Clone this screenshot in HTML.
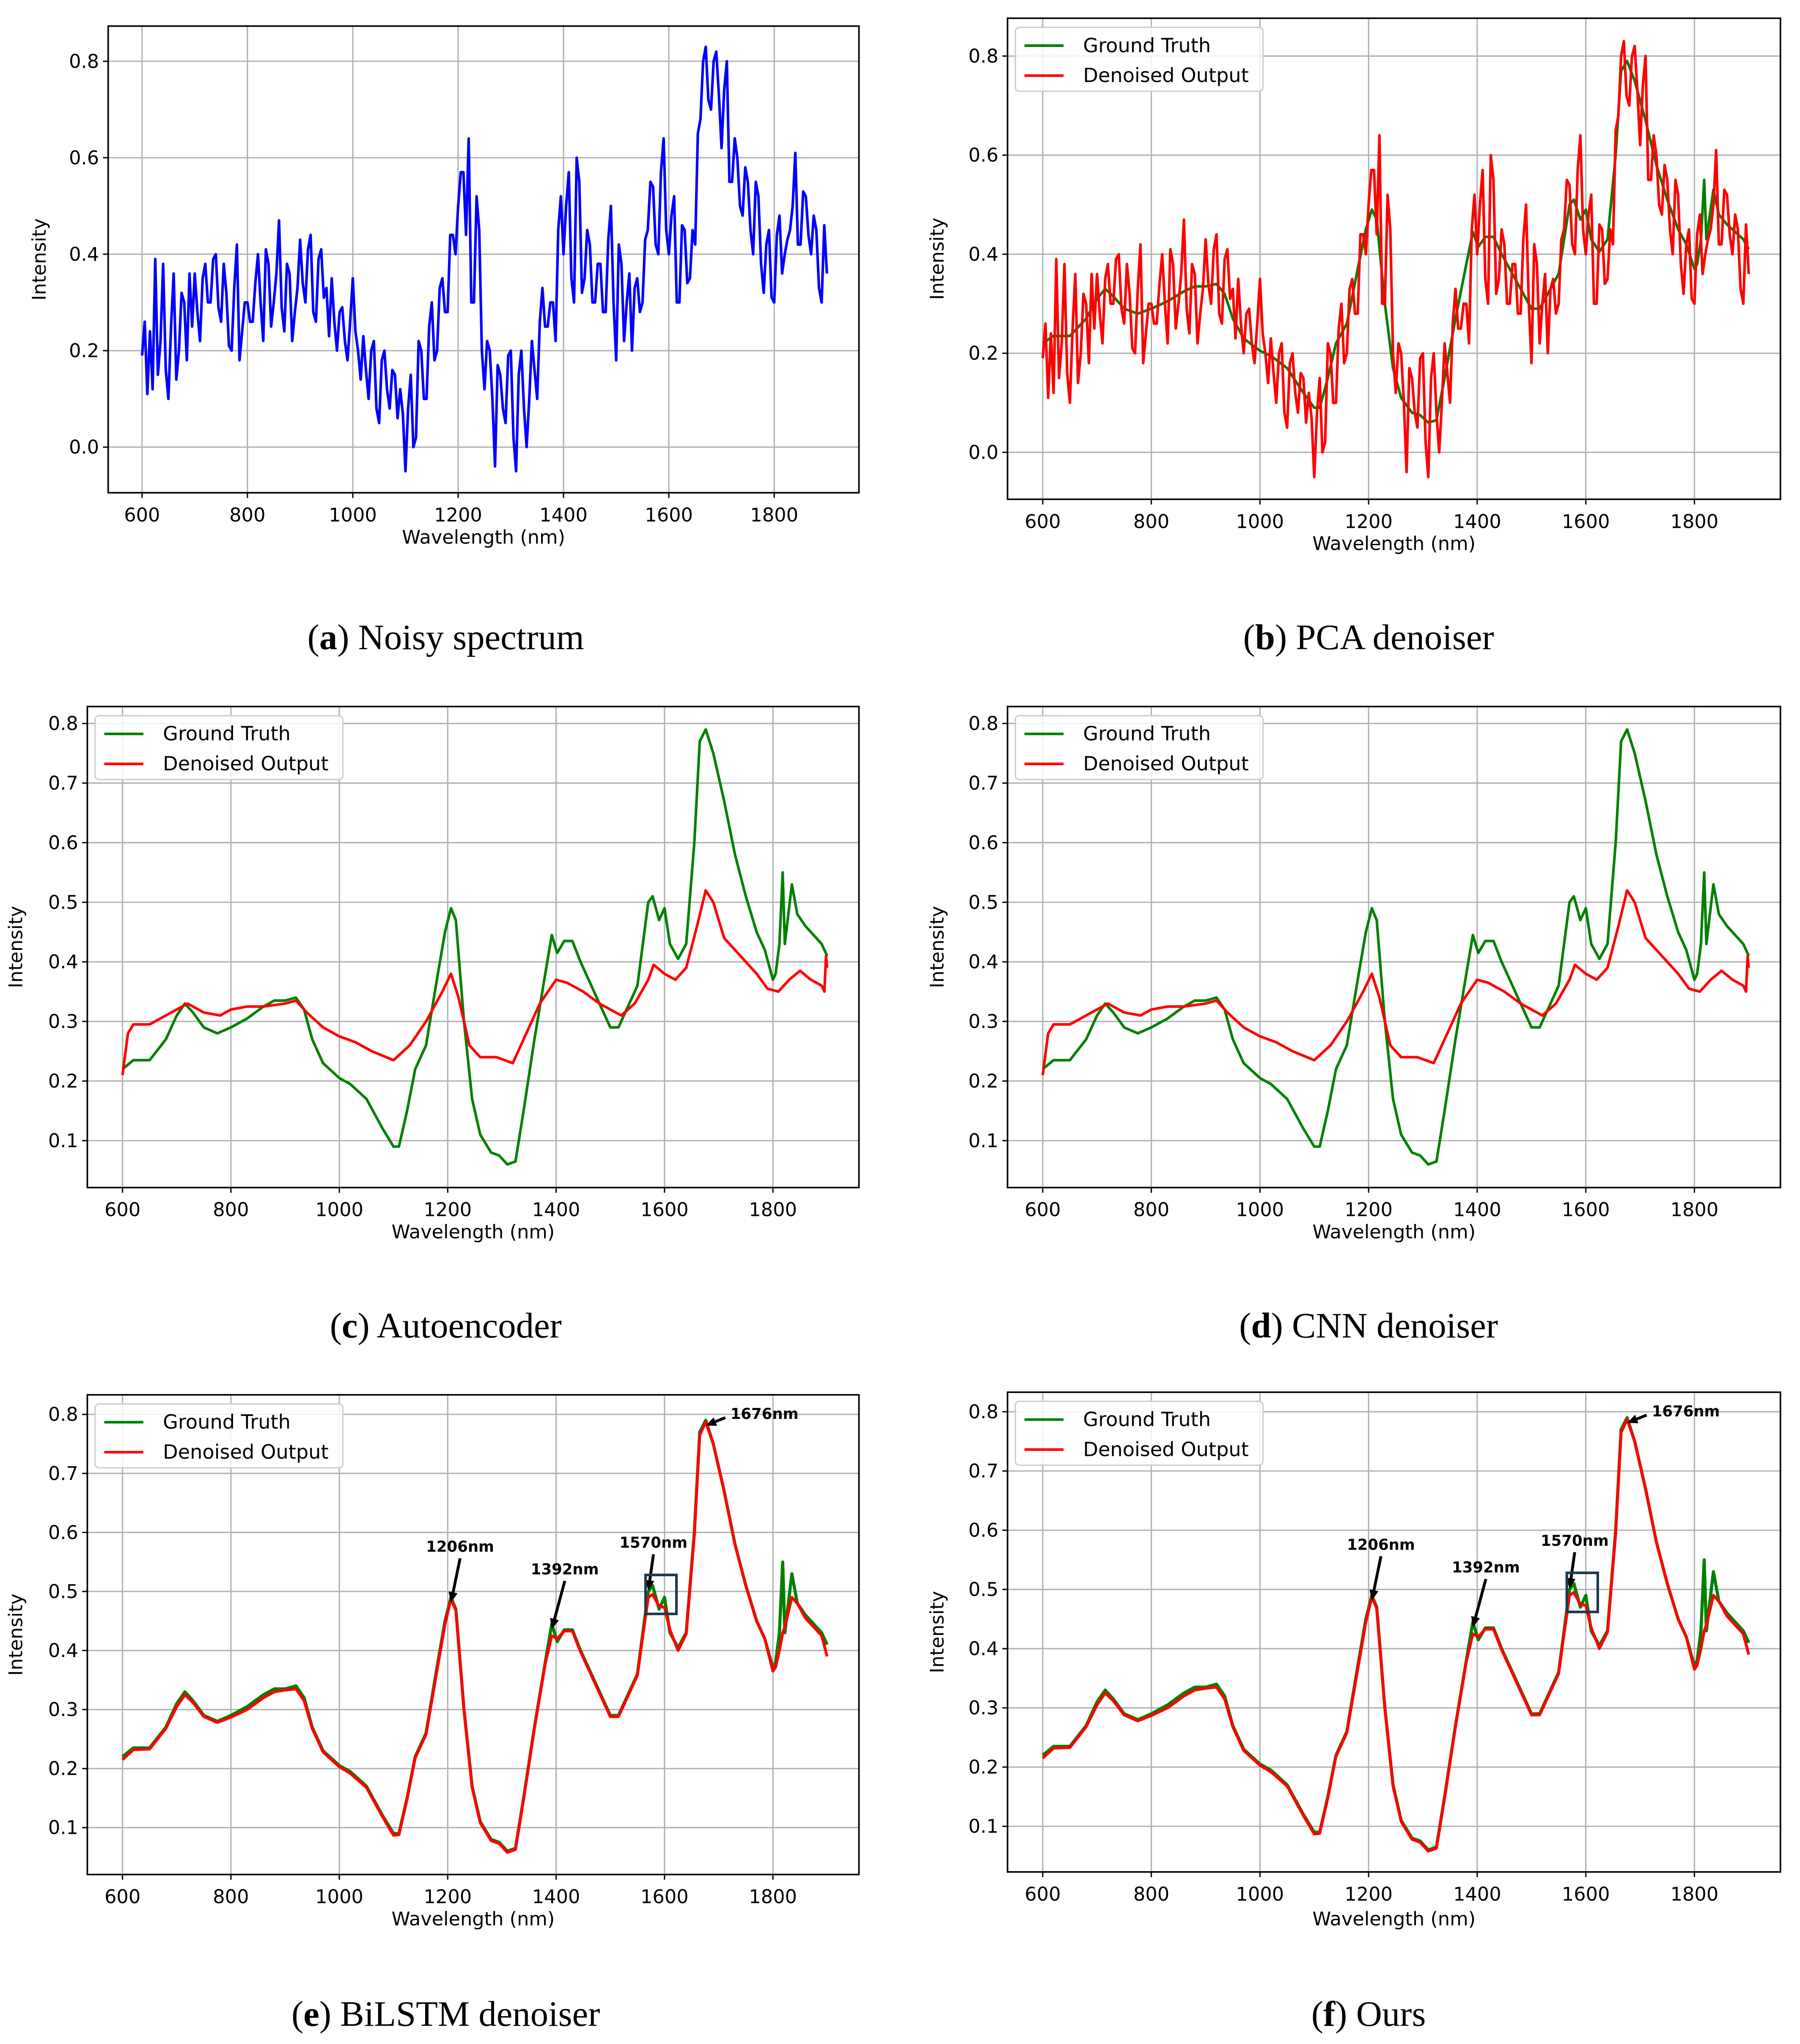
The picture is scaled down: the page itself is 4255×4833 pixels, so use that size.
<!DOCTYPE html>
<html><head><meta charset="utf-8"><style>
html,body{margin:0;padding:0;background:#fff;}
svg{display:block;}
text{font-family:"DejaVu Sans","Liberation Sans",sans-serif;}
.cap{font-family:"Liberation Serif",serif;font-size:27.5px;}
</style></head><body>
<svg id="fig" width="4255" height="4833" viewBox="0 0 1381 1568" preserveAspectRatio="none" xmlns="http://www.w3.org/2000/svg"></svg>
<script>
// ---- data ----
const gtWl = [600,620,650,680,700,715,730,750,775,800,830,860,880,900,920,935,950,970,1000,1020,1050,1080,1100,1110,1125,1140,1160,1180,1195,1206,1215,1230,1245,1260,1280,1295,1310,1325,1340,1360,1380,1392,1402,1415,1430,1445,1460,1480,1500,1515,1530,1550,1560,1570,1578,1590,1600,1610,1625,1640,1655,1665,1676,1690,1710,1730,1750,1770,1785,1800,1805,1812,1818,1822,1835,1845,1860,1880,1890,1900];
const gtVal = [.22,.235,.235,.27,.31,.33,.315,.29,.28,.29,.305,.325,.335,.335,.34,.32,.27,.23,.205,.195,.17,.12,.09,.09,.15,.22,.26,.37,.45,.49,.47,.30,.17,.11,.08,.075,.06,.065,.15,.27,.38,.445,.415,.435,.435,.40,.37,.33,.29,.29,.32,.36,.43,.50,.51,.47,.49,.43,.405,.43,.60,.77,.79,.75,.67,.58,.51,.45,.42,.37,.38,.43,.55,.43,.53,.48,.46,.44,.43,.41];
const goodVal = [.215,.232,.233,.268,.305,.325,.312,.288,.278,.287,.30,.32,.33,.333,.335,.315,.268,.228,.203,.192,.168,.118,.087,.088,.148,.218,.258,.365,.445,.487,.468,.30,.168,.108,.078,.073,.058,.063,.148,.268,.378,.425,.42,.433,.433,.398,.368,.328,.288,.288,.318,.358,.425,.49,.495,.475,.473,.435,.40,.428,.595,.765,.787,.75,.67,.58,.51,.45,.42,.365,.372,.40,.43,.44,.49,.48,.455,.435,.425,.39];
const aeWl = [600,610,620,650,680,700,720,750,780,800,830,860,900,920,940,970,1000,1030,1060,1100,1130,1160,1190,1206,1220,1240,1260,1290,1320,1340,1370,1400,1420,1450,1480,1500,1520,1545,1570,1580,1600,1620,1640,1660,1676,1690,1710,1740,1770,1790,1810,1830,1850,1870,1890,1895,1898,1900];
const aeVal = [.21,.28,.295,.295,.31,.32,.33,.315,.31,.32,.325,.325,.33,.335,.315,.29,.275,.265,.25,.235,.26,.30,.35,.38,.34,.26,.24,.24,.23,.27,.33,.37,.365,.35,.33,.32,.31,.33,.37,.395,.38,.37,.39,.46,.52,.50,.44,.41,.38,.355,.35,.37,.385,.37,.36,.35,.41,.39];
const noisyStart = 600, noisyStep = 5;
const noisyVal = [
.19,.26,.11,.24,.12,.39,.15,.22,.38,.16,.10,.25,.36,.14,.20,.32,.30,.18,.36,.25,
.36,.28,.22,.35,.38,.30,.30,.39,.40,.29,.26,.38,.32,.21,.20,.33,.42,.18,.24,.30,
.30,.26,.26,.34,.40,.30,.22,.41,.38,.25,.30,.36,.47,.29,.24,.38,.36,.22,.28,.33,
.43,.34,.30,.41,.44,.28,.26,.39,.41,.31,.33,.23,.35,.26,.20,.28,.29,.22,.18,.26,
.35,.24,.20,.14,.23,.16,.10,.20,.22,.08,.05,.18,.20,.12,.08,.16,.15,.06,.12,.07,
-.05,.08,.15,.00,.02,.22,.20,.10,.10,.25,.30,.18,.20,.33,.35,.28,.28,.44,.44,.40,
.50,.57,.57,.44,.64,.30,.30,.52,.45,.20,.12,.22,.20,.10,-.04,.17,.15,.08,.05,.19,
.20,.02,-.05,.15,.20,.08,.00,.10,.22,.16,.10,.26,.33,.25,.25,.30,.30,.22,.45,.52,
.40,.50,.57,.35,.30,.60,.55,.32,.35,.45,.42,.30,.30,.38,.38,.28,.28,.43,.50,.30,
.18,.42,.38,.22,.30,.36,.20,.33,.35,.28,.30,.43,.45,.55,.54,.42,.40,.57,.64,.45,
.40,.48,.52,.30,.30,.46,.45,.34,.35,.45,.42,.65,.68,.80,.83,.72,.70,.80,.82,.73,
.62,.74,.80,.55,.55,.64,.60,.50,.48,.58,.55,.45,.40,.55,.52,.38,.32,.42,.45,.31,
.30,.44,.48,.36,.40,.43,.45,.50,.61,.42,.42,.53,.52,.44,.40,.48,.45,.33,.30,.46,
.36];
const xTicks = [600,800,1000,1200,1400,1600,1800];
const yTicksA = [0.0,0.2,0.4,0.6,0.8];
const yTicksC = [0.1,0.2,0.3,0.4,0.5,0.6,0.7,0.8];
const annWl = [1206,1392,1570,1676];
const annVal = [0.49,0.445,0.51,0.79];
const annLbl = ["1206nm","1392nm","1570nm","1676nm"];

const NS="http://www.w3.org/2000/svg";
const svg=document.getElementById('fig');
function mk(tag,attrs,parent){const e=document.createElementNS(NS,tag);for(const k in attrs)e.setAttribute(k,attrs[k]);(parent||svg).appendChild(e);return e;}

const panels=[
 {id:'a',L:83,R:659,T:20,B:378,x0:109,x1:594,yA:0.8,yAp:47,yB:0.0,yBp:343,ticks:yTicksA,ylx:35,xly:417,cap:['a',' Noisy spectrum'],capx:342,capy:498,series:'noisy'},
 {id:'b',L:773,R:1366,T:14,B:383,x0:800,x1:1300,yA:0.8,yAp:43,yB:0.0,yBp:347,ticks:yTicksA,ylx:724,xly:422,cap:['b',' PCA denoiser'],capx:1050,capy:498,series:'pca'},
 {id:'c',L:67,R:659,T:542,B:911,x0:94,x1:593,yA:0.8,yAp:555,yB:0.1,yBp:875,ticks:yTicksC,ylx:17,xly:950,cap:['c',' Autoencoder'],capx:342,capy:1026,series:'ae'},
 {id:'d',L:773,R:1366,T:542,B:911,x0:800,x1:1300,yA:0.8,yAp:555,yB:0.1,yBp:875,ticks:yTicksC,ylx:724,xly:950,cap:['d',' CNN denoiser'],capx:1050,capy:1026,series:'ae'},
 {id:'e',L:67,R:659,T:1070,B:1438,x0:94,x1:593,yA:0.8,yAp:1085,yB:0.1,yBp:1402,ticks:yTicksC,ylx:17,xly:1477,cap:['e',' BiLSTM denoiser'],capx:342,capy:1554,series:'good'},
 {id:'f',L:773,R:1366,T:1068,B:1436,x0:800,x1:1300,yA:0.8,yAp:1083,yB:0.1,yBp:1401,ticks:yTicksC,ylx:724,xly:1477,cap:['f',' Ours'],capx:1050,capy:1554,series:'good'}
];

panels.forEach(p=>{
 const g=mk('g',{});
 
 
 const X=w=>p.x0+(w-600)*(p.x1-p.x0)/1200;
 const Y=v=>p.yBp+(v-p.yB)*(p.yAp-p.yBp)/(p.yA-p.yB);
 const clipId='clip'+p.id;
 const cp=mk('clipPath',{id:clipId},g);mk('rect',{x:p.L,y:p.T,width:p.R-p.L,height:p.B-p.T},cp);
 xTicks.forEach(t=>{
  const gl=mk('line',{x1:X(t),x2:X(t),y1:p.T,y2:p.B,stroke:'#b0b0b0','stroke-width':1},g);
  
  mk('line',{x1:X(t),x2:X(t),y1:p.B,y2:p.B+4,stroke:'#000','stroke-width':1},g);
  const tl=mk('text',{x:X(t),y:p.B+22,'font-size':14.5,'text-anchor':'middle'},g);tl.textContent=t;
  
 });
 p.ticks.forEach(t=>{
  const gl=mk('line',{x1:p.L,x2:p.R,y1:Y(t),y2:Y(t),stroke:'#b0b0b0','stroke-width':1},g);
  
  mk('line',{x1:p.L-4,x2:p.L,y1:Y(t),y2:Y(t),stroke:'#000','stroke-width':1},g);
  const tl=mk('text',{x:p.L-7,y:Y(t)+5,'font-size':14.5,'text-anchor':'end'},g);tl.textContent=t.toFixed(1);
  
 });
 const cg=mk('g',{'clip-path':'url(#'+clipId+')'},g);
 function line(wl,vals,color,name,w){
  const d=vals.map((v,i)=>(i?'L':'M')+X(wl[i]).toFixed(2)+','+Y(v).toFixed(2)).join('');
  const pa=mk('path',{d:d,fill:'none',stroke:color,'stroke-width':w||2,'stroke-linejoin':'round'},cg);
  
 }
 const nWl=noisyVal.map((_,i)=>noisyStart+i*noisyStep);
 if(p.series==='noisy'){line(nWl,noisyVal,'#0000ff','noisy-spectrum-line');}
 else if(p.series==='pca'){line(gtWl,gtVal,'#008000','ground-truth-line');line(nWl,noisyVal,'#ff0000','denoised-output-line');}
 else if(p.series==='ae'){line(gtWl,gtVal,'#008000','ground-truth-line');line(aeWl,aeVal,'#ff0000','denoised-output-line');}
 else {line(gtWl,gtVal,'#008000','ground-truth-line',2.4);line(gtWl,goodVal,'#ff0000','denoised-output-line',2.2);}
 const fr=mk('rect',{x:p.L,y:p.T,width:p.R-p.L,height:p.B-p.T,fill:'none',stroke:'#000','stroke-width':1.2},g);
 
 const xl=mk('text',{x:(p.L+p.R)/2,y:p.xly,'font-size':14.5,'text-anchor':'middle'},g);xl.textContent='Wavelength (nm)';
 
 const yc=(p.T+p.B)/2;
 const yl=mk('text',{x:p.ylx,y:yc,'font-size':14.5,'text-anchor':'middle',transform:'rotate(-90 '+p.ylx+' '+yc+')'},g);yl.textContent='Intensity';
 
 if(p.series!=='noisy'){
  const lg=mk('g',{},g);
  
  const lx=p.L+6,ly=p.T+7;
  mk('rect',{x:lx,y:ly,width:190,height:49,rx:3,fill:'#fff','fill-opacity':0.85,stroke:'#ccc','stroke-width':1},lg);
  [['Ground Truth','#008000'],['Denoised Output','#ff0000']].forEach((e,i)=>{
   const eg=mk('g',{},lg);
   
   mk('line',{x1:lx+7,x2:lx+37,y1:ly+14+i*23,y2:ly+14+i*23,stroke:e[1],'stroke-width':2},eg);
   const t=mk('text',{x:lx+52,y:ly+19+i*23,'font-size':15},eg);t.textContent=e[0];
  });
 }
 if(p.series==='good'){
  const offs=[[7,-34],[10,-37],[4,-28],[15,-6]];
  annWl.forEach((w,i)=>{
   const ex=X(w),ey=Y(annVal[i])+4;
   const sx=ex+offs[i][0],sy=ey+offs[i][1];
   const ag=mk('g',{},g);
   
   const ang=Math.atan2(ey-sy,ex-sx),hl=8,hw=3.5;
   const bx=ex-hl*Math.cos(ang),by=ey-hl*Math.sin(ang);
   mk('line',{x1:sx,y1:sy,x2:bx,y2:by,stroke:'#000','stroke-width':2.2},ag);
   mk('polygon',{points:[ex,ey,bx+hw*Math.sin(ang),by-hw*Math.cos(ang),bx-hw*Math.sin(ang),by+hw*Math.cos(ang)].join(','),fill:'#000'},ag);
   const t=mk('text',{'font-size':11.5,'font-weight':'bold'},ag);
   if(i===3){t.setAttribute('x',sx+4);t.setAttribute('y',sy+1);}
   else{t.setAttribute('x',sx);t.setAttribute('y',sy-5);t.setAttribute('text-anchor','middle');}
   t.textContent=annLbl[i];
  });
  const bx=mk('rect',{x:X(1565),y:Y(0.528),width:X(1622)-X(1565),height:Y(0.462)-Y(0.528),fill:'none',stroke:'#1f3a4d','stroke-width':2},g);
  
 }
 const cap=mk('text',{x:p.capx,y:p.capy,'text-anchor':'middle',class:'cap'},g);
 
 const t1=mk('tspan',{},cap);t1.textContent='(';
 const t2=mk('tspan',{'font-weight':'bold'},cap);t2.textContent=p.cap[0];
 const t3=mk('tspan',{},cap);t3.textContent=')'+p.cap[1];
});
</script>
</body></html>
